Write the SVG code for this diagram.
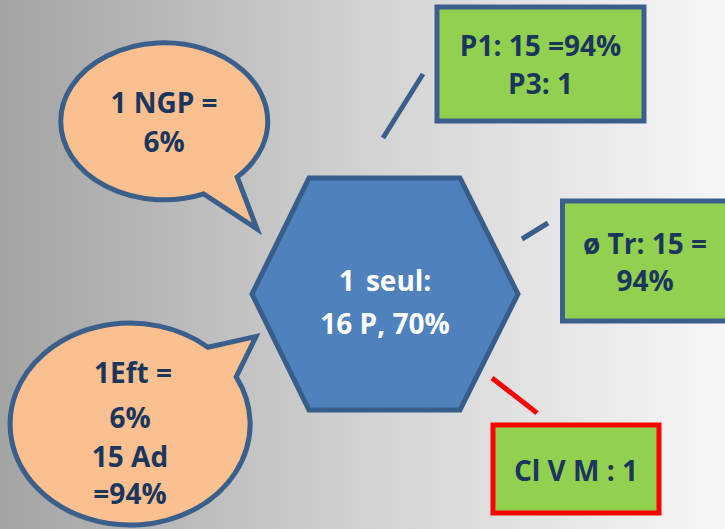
<svg xmlns="http://www.w3.org/2000/svg" width="725" height="529" viewBox="0 0 725 529">
  <defs>
    <linearGradient id="bg" x1="0" y1="0" x2="1" y2="0">
      <stop offset="0" stop-color="#A3A3A3"/>
      <stop offset="0.5" stop-color="#D2D2D2"/>
      <stop offset="1" stop-color="#F7F7F7"/>
    </linearGradient>
    <style>
      .lbl { font-family: "Open Sans", "Liberation Sans", sans-serif; font-weight: bold; font-size: 28px; text-anchor: middle; fill: #1B365D; }
      .wht { fill: #FFFFFF; }
      .box { fill: #92D050; stroke: #3B5E8C; stroke-width: 5; }
      .redbox { fill: #92D050; stroke: #FF0000; stroke-width: 5; }
      .bubble { fill: #FAC090; stroke: #3A5F8B; stroke-width: 5; stroke-linejoin: miter; }
      .hex { fill: #4F81BD; stroke: #385D8A; stroke-width: 5; }
      .conn { stroke: #3A5F8B; stroke-width: 5; fill: none; }
      .connred { stroke: #FF0000; stroke-width: 5; fill: none; }
    </style>
  </defs>
  <rect x="0" y="0" width="725" height="529" fill="url(#bg)"/>

  <g id="connectors">
    <line class="conn" x1="383" y1="138" x2="423" y2="74"/>
    <line class="conn" x1="522" y1="239" x2="548" y2="223"/>
    <line class="connred" x1="492" y1="378" x2="537" y2="413"/>
  </g>

  <g id="hexagon">
    <polygon class="hex" points="252,294 309,178 460,178 518,294 460,410 309,410"/>
    <text class="lbl wht" x="385" y="291" word-spacing="4">1 seul:</text>
    <text class="lbl wht" x="385" y="334">16 P, 70%</text>
  </g>

  <g id="box-p1">
    <rect class="box" x="437" y="7" width="207" height="114"/>
    <text class="lbl" x="540.5" y="56">P1: 15 =94%</text>
    <text class="lbl" x="540.5" y="94">P3: 1</text>
  </g>

  <g id="box-tr">
    <rect class="box" x="562.5" y="201" width="170" height="120"/>
    <text class="lbl" x="645" y="254">ø Tr: 15 =</text>
    <text class="lbl" x="645" y="291">94%</text>
  </g>

  <g id="box-clvm">
    <rect class="redbox" x="493" y="425" width="166" height="88"/>
    <text class="lbl" x="576" y="481">Cl V M : 1</text>
  </g>

  <g id="bubble-ngp">
    <path class="bubble" d="M 237.2,177 A 103.5 78.5 0 1 0 203.7,193.9 L 257,229 Z"/>
    <text class="lbl" x="164" y="113">1 NGP =</text>
    <text class="lbl" x="164" y="152">6%</text>
  </g>

  <g id="bubble-eft">
    <path class="bubble" d="M 207.9,347.2 A 120 101 0 1 0 236.2,376.9 L 256,336.5 Z"/>
    <text class="lbl" x="133" y="383">1Eft =</text>
    <text class="lbl" x="130" y="428">6%</text>
    <text class="lbl" x="130" y="467">15 Ad</text>
    <text class="lbl" x="130" y="504">=94%</text>
  </g>
</svg>
